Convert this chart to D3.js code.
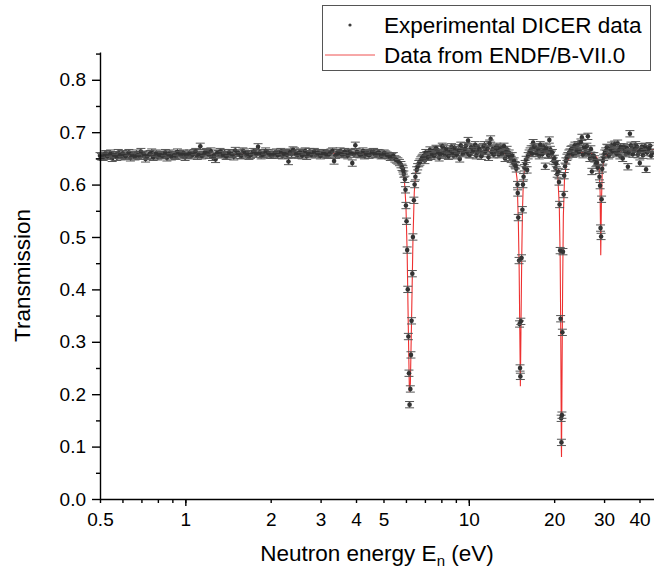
<!DOCTYPE html>
<html>
<head>
<meta charset="utf-8">
<script src="https://cdn.jsdelivr.net/npm/d3@7"></script>
<style>
  body { margin: 0; background: #fff; }
  svg text { font-family: "Liberation Sans", Arial, sans-serif; fill: #000; }
</style>
</head>
<body>
<div class="chart"></div>
<script>
// Experimental DICER transmission, energies in eV
var expEnergy = [
    // 0.5 - 1 eV
    0.500, 0.513, 0.525, 0.538, 0.552, 0.566, 0.580, 0.594, 0.609, 0.624,
    0.640, 0.656, 0.672, 0.689, 0.706, 0.724, 0.742, 0.761, 0.780, 0.799,
    0.819, 0.840, 0.861, 0.882, 0.904, 0.927, 0.950, 0.974, 0.998,
    // 1 - 2 eV
    1.023, 1.049, 1.075, 1.102, 1.129, 1.158, 1.187, 1.216, 1.247, 1.278,
    1.310, 1.342, 1.376, 1.410, 1.446, 1.482, 1.519, 1.557, 1.596, 1.636,
    1.677, 1.718, 1.761, 1.805, 1.851, 1.897, 1.944, 1.993,
    // 2 - 3 eV
    2.043, 2.094, 2.146, 2.200, 2.255, 2.311, 2.369, 2.428, 2.489, 2.551,
    2.615, 2.680, 2.747, 2.816, 2.886, 2.958,
    // 3 - 5 eV
    3.032, 3.108, 3.186, 3.265, 3.347, 3.431, 3.516, 3.604, 3.694, 3.787,
    3.881, 3.978, 4.078, 4.180, 4.284, 4.391, 4.501, 4.614, 4.729, 4.847,
    4.968,
    5.093, 5.220, 5.350, 5.484, 5.621, 5.762, 5.85, 5.90,
    // first resonance
    5.95, 5.98, 6.00, 6.03, 6.06, 6.09, 6.12, 6.15, 6.18, 6.22,
    6.25, 6.28, 6.32, 6.35, 6.40, 6.44, 6.48,
    // 6.5 - 14.7 eV
    6.55, 6.66, 6.77, 6.88, 7.00, 7.11, 7.23, 7.35, 7.48, 7.60,
    7.73, 7.86, 7.99, 8.13, 8.26, 8.40, 8.55, 8.69, 8.84, 8.99,
    9.14, 9.29, 9.45, 9.61, 9.77, 9.94, 10.10, 10.27, 10.45, 10.62,
    10.80, 10.98, 11.17, 11.36, 11.55, 11.74, 11.94, 12.14, 12.35, 12.55,
    12.77, 12.98, 13.20, 13.42, 13.65, 13.88, 14.11, 14.35, 14.55, 14.70,
    // second resonance
    14.85, 14.88, 14.94, 15.04, 15.10, 15.16, 15.20, 15.26, 15.34, 15.45,
    15.52, 15.60, 15.70,
    // 15.8 - 20.5 eV
    15.80, 16.06, 16.32, 16.59, 16.86, 17.14, 17.43, 17.72, 18.01, 18.31,
    18.61, 18.92, 19.23, 19.55, 19.87, 20.20, 20.50,
    // third resonance
    20.70, 20.80, 20.90, 21.00, 21.08, 21.17, 21.22, 21.30, 21.38, 21.48,
    21.60, 21.70, 21.85,
    // 22 - 28.5 eV
    22.00, 22.36, 22.73, 23.10, 23.48, 23.86, 24.25, 24.65, 25.05, 25.46,
    25.88, 26.30, 26.73, 27.17, 27.61, 28.06, 28.50,
    // fourth resonance
    28.90, 29.05, 29.15, 29.28, 29.40, 29.55, 29.70,
    // 30 - 45 eV
    29.9, 30.4, 30.9, 31.4, 31.9, 32.4, 33.0, 33.5, 34.1, 34.6,
    35.2, 35.8, 36.4, 37.0, 37.6, 38.2, 38.8, 39.5, 40.1, 40.8,
    41.5, 42.2, 42.9, 43.6, 44.3,
    // in-between channels, 0.5 - 1 eV
    0.506, 0.519, 0.531, 0.545, 0.559, 0.573, 0.587, 0.601, 0.616, 0.632,
    0.648, 0.664, 0.680, 0.697, 0.715, 0.733, 0.751, 0.770, 0.789, 0.809,
    0.829, 0.850, 0.871, 0.893, 0.915, 0.938, 0.962, 0.986,
    // 1 - 2 eV
    1.011, 1.036, 1.062, 1.088, 1.115, 1.143, 1.172, 1.201, 1.231, 1.262,
    1.294, 1.326, 1.359, 1.393, 1.428, 1.464, 1.500, 1.538, 1.576, 1.616,
    1.656, 1.697, 1.739, 1.783, 1.828, 1.874, 1.920, 1.968, 2.018,
    // 2 - 3 eV
    2.068, 2.120, 2.173, 2.227, 2.283, 2.340, 2.398, 2.458, 2.520, 2.583,
    2.647, 2.713, 2.781, 2.851, 2.922, 2.995,
    // 3 - 5.9 eV
    3.070, 3.147, 3.225, 3.306, 3.389, 3.473, 3.560, 3.649, 3.740, 3.834,
    3.929, 4.028, 4.129, 4.232, 4.337, 4.446, 4.557, 4.671, 4.788, 4.907,
    5.030,
    5.156, 5.285, 5.417, 5.552, 5.691, 5.81, 5.875,
    // 6.5 - 14.7 eV
    6.60, 6.72, 6.83, 6.94, 7.05, 7.17, 7.29, 7.42, 7.54, 7.66,
    7.80, 7.93, 8.06, 8.19, 8.33, 8.47, 8.62, 8.76, 8.91, 9.06,
    9.21, 9.37, 9.53, 9.69, 9.85, 10.02, 10.18, 10.36, 10.53, 10.71,
    10.89, 11.07, 11.26, 11.45, 11.64, 11.84, 12.04, 12.24, 12.45, 12.66,
    12.87, 13.09, 13.31, 13.53, 13.76, 14.00, 14.23, 14.45, 14.62,
    // 15.8 - 20.5 eV
    15.93, 16.19, 16.45, 16.72, 17.00, 17.28, 17.57, 17.86, 18.16, 18.46,
    18.76, 19.07, 19.39, 19.71, 20.03, 20.35,
    // 22 - 28.5 eV
    22.18, 22.54, 22.91, 23.29, 23.67, 24.05, 24.45, 24.85, 25.25, 25.67,
    26.09, 26.51, 26.95, 27.39, 27.83, 28.28,
    // 30 - 45 eV
    30.15, 30.65, 31.15, 31.65, 32.15, 32.7, 33.25, 33.8, 34.35, 34.9,
    35.5, 36.1, 36.7, 37.3, 37.9, 38.5, 39.15, 39.8, 40.45, 41.15,
    41.85, 42.55, 43.25, 43.95
];

var expTrans = [
    0.655, 0.652, 0.659, 0.656, 0.650, 0.657, 0.661, 0.653, 0.656, 0.658,
    0.651, 0.655, 0.660, 0.654, 0.657, 0.649, 0.656, 0.662, 0.655, 0.653,
    0.658, 0.656, 0.651, 0.660, 0.657, 0.654, 0.659, 0.655, 0.652,

    0.658, 0.655, 0.661, 0.654, 0.673, 0.657, 0.663, 0.656, 0.652, 0.648,
    0.659, 0.657, 0.661, 0.655, 0.658, 0.653, 0.660, 0.656, 0.664, 0.657,
    0.654, 0.659, 0.662, 0.672, 0.655, 0.658, 0.661, 0.656,

    0.657, 0.662, 0.659, 0.655, 0.661, 0.644, 0.658, 0.664, 0.656, 0.662,
    0.659, 0.654, 0.663, 0.660, 0.657, 0.661,

    0.658, 0.660, 0.656, 0.662, 0.645, 0.661, 0.664, 0.657, 0.659, 0.662,
    0.641, 0.675, 0.660, 0.658, 0.655, 0.661, 0.659, 0.663, 0.657, 0.660,
    0.656,
    0.658, 0.655, 0.653, 0.649, 0.645, 0.638, 0.630, 0.620,

    0.610, 0.590, 0.560, 0.530, 0.475, 0.400, 0.310, 0.240, 0.180, 0.210,
    0.275, 0.340, 0.430, 0.500, 0.570, 0.600, 0.615,

    0.628, 0.640, 0.647, 0.652, 0.646, 0.657, 0.661, 0.654, 0.664, 0.658,
    0.667, 0.651, 0.660, 0.670, 0.656, 0.663, 0.659, 0.672, 0.655, 0.666,
    0.661, 0.649, 0.668, 0.663, 0.674, 0.684, 0.657, 0.662, 0.669, 0.655,
    0.671, 0.664, 0.659, 0.676, 0.666, 0.652, 0.687, 0.668, 0.661, 0.673,
    0.657, 0.670, 0.664, 0.650, 0.667, 0.660, 0.648, 0.641, 0.638, 0.630,

    0.600, 0.584, 0.537, 0.455, 0.334, 0.250, 0.234, 0.339, 0.460, 0.552,
    0.600, 0.615, 0.632,

    0.640, 0.628, 0.660, 0.668, 0.680, 0.671, 0.663, 0.655, 0.666, 0.673,
    0.635, 0.664, 0.685, 0.658, 0.645, 0.632, 0.620,

    0.625, 0.605, 0.562, 0.474, 0.344, 0.154, 0.108, 0.160, 0.318, 0.472,
    0.581, 0.617, 0.635,

    0.645, 0.655, 0.662, 0.668, 0.671, 0.660, 0.676, 0.665, 0.690, 0.672,
    0.661, 0.692, 0.650, 0.625, 0.655, 0.640, 0.632,

    0.615, 0.598, 0.517, 0.501, 0.572, 0.630, 0.645,

    0.652, 0.664, 0.670, 0.658, 0.675, 0.666, 0.661, 0.679, 0.655, 0.668,
    0.672, 0.659, 0.634, 0.697, 0.670, 0.663, 0.676, 0.657, 0.641, 0.672,
    0.665, 0.629, 0.668, 0.674, 0.660,

    // in-between channels
    0.653, 0.658, 0.654, 0.660, 0.657, 0.652, 0.656, 0.659, 0.654, 0.661,
    0.657, 0.653, 0.656, 0.663, 0.658, 0.654, 0.659, 0.652, 0.660, 0.657,
    0.655, 0.661, 0.658, 0.653, 0.656, 0.662, 0.657, 0.660,

    0.656, 0.660, 0.657, 0.663, 0.658, 0.655, 0.661, 0.659, 0.664, 0.656,
    0.660, 0.663, 0.657, 0.654, 0.661, 0.658, 0.665, 0.660, 0.655, 0.662,
    0.659, 0.656, 0.663, 0.658, 0.661, 0.657, 0.664, 0.660, 0.656,

    0.660, 0.656, 0.663, 0.659, 0.657, 0.662, 0.666, 0.658, 0.661, 0.655,
    0.664, 0.659, 0.657, 0.663, 0.660, 0.655,

    0.661, 0.657, 0.659, 0.664, 0.656, 0.660, 0.658, 0.663, 0.655, 0.661,
    0.658, 0.662, 0.657, 0.664, 0.659, 0.656, 0.662, 0.658, 0.661, 0.655,
    0.660,
    0.656, 0.652, 0.655, 0.647, 0.642, 0.633, 0.626,

    0.634, 0.643, 0.650, 0.655, 0.661, 0.652, 0.666, 0.659, 0.655, 0.669,
    0.662, 0.658, 0.673, 0.660, 0.668, 0.654, 0.665, 0.661, 0.670, 0.657,
    0.666, 0.675, 0.659, 0.668, 0.662, 0.657, 0.671, 0.665, 0.676, 0.661,
    0.668, 0.654, 0.672, 0.663, 0.669, 0.679, 0.662, 0.657, 0.670, 0.664,
    0.668, 0.659, 0.673, 0.662, 0.656, 0.652, 0.655, 0.645, 0.636,

    0.648, 0.655, 0.664, 0.659, 0.672, 0.660, 0.668, 0.676, 0.658, 0.665,
    0.670, 0.656, 0.667, 0.661, 0.650, 0.640,

    0.652, 0.660, 0.667, 0.658, 0.675, 0.666, 0.662, 0.681, 0.657, 0.669,
    0.673, 0.660, 0.668, 0.655, 0.649, 0.642,

    0.660, 0.671, 0.655, 0.668, 0.663, 0.677, 0.659, 0.666, 0.672, 0.650,
    0.664, 0.670, 0.661, 0.675, 0.658, 0.668, 0.672, 0.662, 0.666, 0.656,
    0.673, 0.661, 0.669, 0.655
];

var expError = 0.006;

// ENDF/B-VII.0 curve
var endfEnergy = [
    0.5, 1.0, 2.0, 3.0, 4.0, 4.8, 5.3, 5.6, 5.8, 5.93,
    6.00, 6.06, 6.12, 6.17, 6.22, 6.28, 6.35, 6.42, 6.5, 6.6,
    6.8, 7.2, 8.5, 10.5, 12.5, 13.8, 14.3, 14.6, 14.8, 14.95,
    15.05, 15.13, 15.2, 15.27, 15.36, 15.46, 15.58, 15.8, 16.2, 17.0,
    18.5, 19.5, 20.2, 20.6, 20.85, 21.0, 21.1, 21.2, 21.23, 21.3,
    21.42, 21.55, 21.75, 22.1, 22.8, 24.0, 27.0, 28.3, 28.8, 29.05,
    29.2, 29.35, 29.55, 30.0, 31.0, 35.0, 45.0
];
var endfTrans = [
    0.655, 0.657, 0.659, 0.660, 0.660, 0.658, 0.654, 0.646, 0.635, 0.605,
    0.560, 0.470, 0.320, 0.205, 0.220, 0.340, 0.490, 0.585, 0.625, 0.640,
    0.652, 0.658, 0.662, 0.665, 0.663, 0.657, 0.648, 0.635, 0.610, 0.530,
    0.440, 0.320, 0.215, 0.320, 0.450, 0.550, 0.610, 0.640, 0.653, 0.661,
    0.662, 0.655, 0.640, 0.615, 0.560, 0.460, 0.320, 0.100, 0.080, 0.200,
    0.400, 0.540, 0.610, 0.640, 0.655, 0.661, 0.660, 0.652, 0.635, 0.585,
    0.465, 0.560, 0.625, 0.650, 0.660, 0.665, 0.667
];

var xTickLabels = [0.5, 1, 2, 3, 4, 5, 10, 20, 30, 40];
var xMajorTicks = [1, 10];
var xMinorTicks = [0.6, 0.7, 0.8, 0.9, 6, 7, 8, 9];
var yTickLabels = [0, 0.1, 0.2, 0.3, 0.4, 0.5, 0.6, 0.7, 0.8];
var yMinorTicks = [0.05, 0.15, 0.25, 0.35, 0.45, 0.55, 0.65, 0.75, 0.85];
var legendLabels = ["Experimental DICER data", "Data from ENDF/B-VII.0"];

var svgWidth = 654;
var svgHeight = 570;
var margin = { top: 52, right: 0, bottom: 71, left: 100 };
var width = svgWidth - margin.left - margin.right;
var height = svgHeight - margin.top - margin.bottom;

var svg = d3.select(".chart")
    .append("svg")
    .attr("width", svgWidth)
    .attr("height", svgHeight);

var chart = svg.append("g")
    .attr("transform", "translate(" + margin.left + "," + margin.top + ")");

var xScale = d3.scaleLog().domain([0.5, 45]).range([0, width]);
var yScale = d3.scaleLinear().domain([0, 0.853]).range([height, 0]);

// ENDF line (drawn under the points)
var lineData = endfEnergy.map(function(e, i) { return [e, endfTrans[i]]; });
var line = d3.line()
    .x(function(d) { return xScale(d[0]); })
    .y(function(d) { return yScale(d[1]); });

chart.append("path")
    .datum(lineData)
    .attr("fill", "none")
    .attr("stroke", "#ee3030")
    .attr("stroke-width", 1.1)
    .attr("d", line);

// experimental points with error bars
var expData = expEnergy.map(function(e, i) { return { e: e, t: expTrans[i] }; });

var pts = chart.append("g").selectAll("g")
    .data(expData)
    .enter()
    .append("g")
    .attr("transform", function(d) {
        return "translate(" + xScale(d.e) + "," + yScale(d.t) + ")";
    });

pts.append("path")
    .attr("fill", "none")
    .attr("stroke", "#555")
    .attr("stroke-width", 1)
    .attr("d", function(d) {
        var up = yScale(d.t + expError) - yScale(d.t);
        var dn = yScale(d.t - expError) - yScale(d.t);
        return "M0," + up + "V" + dn +
            "M-4.5," + up + "H4.5" +
            "M-4.5," + dn + "H4.5";
    });

pts.append("circle")
    .attr("r", 2.3)
    .attr("fill", "#333");

// x axis
var xAxisG = chart.append("g")
    .attr("transform", "translate(0," + height + ")");

xAxisG.append("g")
    .call(d3.axisBottom(xScale).tickValues(xMinorTicks).tickSize(4).tickFormat(""))
    .call(function(g) { g.select(".domain").remove(); });

xAxisG.append("g")
    .call(d3.axisBottom(xScale).tickValues(xMajorTicks).tickSize(7).tickFormat(""))
    .call(function(g) { g.select(".domain").remove(); });

xAxisG.append("g")
    .attr("class", "x-axis")
    .call(d3.axisBottom(xScale)
        .tickValues(xTickLabels)
        .tickSize(4)
        .tickSizeOuter(0)
        .tickPadding(10)
        .tickFormat(function(d) { return String(d); }));

// y axis
var yAxisG = chart.append("g");

yAxisG.append("g")
    .call(d3.axisLeft(yScale).tickValues(yMinorTicks).tickSize(4).tickFormat(""))
    .call(function(g) { g.select(".domain").remove(); });

yAxisG.append("g")
    .attr("class", "y-axis")
    .call(d3.axisLeft(yScale)
        .tickValues(yTickLabels)
        .tickSize(8)
        .tickSizeOuter(0)
        .tickPadding(6)
        .tickFormat(d3.format(".1f")));

chart.selectAll(".tick line, .domain")
    .attr("stroke", "#000")
    .attr("stroke-width", 1.4);

chart.selectAll(".tick text")
    .style("font-size", "19px")
    .style("font-family", "'Liberation Sans', Arial, sans-serif");

// axis titles
var xTitle = svg.append("text")
    .attr("x", margin.left + width / 2)
    .attr("y", 561)
    .attr("text-anchor", "middle")
    .style("font-size", "22.5px");
xTitle.append("tspan").text("Neutron energy E");
xTitle.append("tspan").attr("dy", 5).style("font-size", "15px").text("n");
xTitle.append("tspan").attr("dy", -5).text(" (eV)");

svg.append("text")
    .attr("transform", "translate(30," + (margin.top + height / 2) + ") rotate(-90)")
    .attr("text-anchor", "middle")
    .style("font-size", "22.5px")
    .text("Transmission");

// legend
var legend = svg.append("g");
legend.append("rect")
    .attr("x", 322.5)
    .attr("y", 5.5)
    .attr("width", 328)
    .attr("height", 65)
    .attr("fill", "#fff")
    .attr("stroke", "#555")
    .attr("stroke-width", 1);

legend.append("circle")
    .attr("cx", 350)
    .attr("cy", 25)
    .attr("r", 1.6)
    .attr("fill", "#3c3c3c");

legend.append("line")
    .attr("x1", 325).attr("x2", 375)
    .attr("y1", 55).attr("y2", 55)
    .attr("stroke", "#ee5050")
    .attr("stroke-width", 1);

legend.selectAll("text.leg")
    .data(legendLabels)
    .enter()
    .append("text")
    .attr("class", "leg")
    .attr("x", 384)
    .attr("y", function(d, i) { return 33 + i * 30; })
    .style("font-size", "22.5px")
    .text(function(d) { return d; });
</script>
</body>
</html>
